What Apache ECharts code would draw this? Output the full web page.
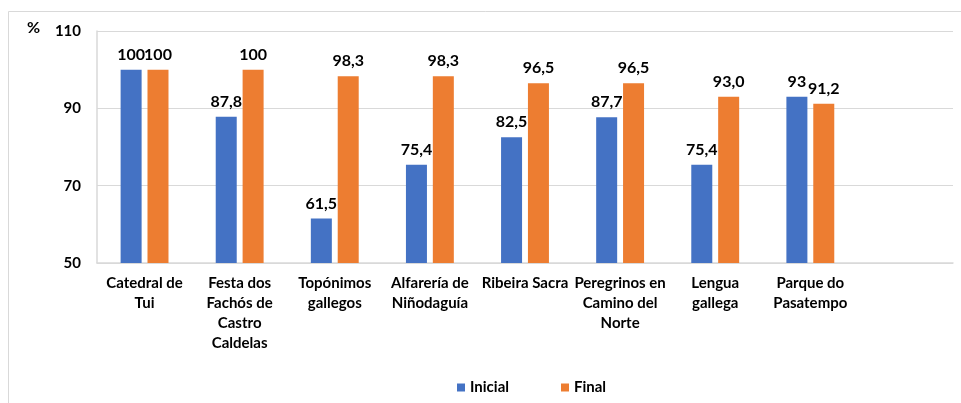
<!DOCTYPE html>
<html>
<head>
<meta charset="utf-8">
<script src="https://cdn.jsdelivr.net/npm/echarts@6/dist/echarts.min.js"></script>
<style>
  html, body { margin: 0; padding: 0; background: #fff; }
  #chart { width: 961px; height: 403px; }
</style>
</head>
<body>
<div id="chart"></div>
<script>
// categories (last slot is empty in the original)
const categories = [
  "Catedral de\nTui",
  "Festa dos\nFachós de\nCastro\nCaldelas",
  "Topónimos\ngallegos",
  "Alfarería de\nNiñodaguía",
  "Ribeira Sacra",
  "Peregrinos en\nCamino del\nNorte",
  "Lengua\ngallega",
  "Parque do\nPasatempo",
  ""
];
const inicial = [100, 87.8, 61.5, 75.4, 82.5, 87.7, 75.4, 93, null];
const final = [100, 100, 98.3, 98.3, 96.5, 96.5, 93.0, 91.2, null];
// labels as printed on the chart
const inicialLabels = ["100", "87,8", "61,5", "75,4", "82,5", "87,7", "75,4", "93", ""];
const finalLabels = ["100", "100", "98,3", "98,3", "96,5", "96,5", "93,0", "91,2", ""];
const yTicks = [50, 70, 90, 110];

const FONT = "Lato";
const gridColor = "#d9d9d9";

const chart = echarts.init(document.getElementById("chart"));

function labelFor(arr) {
  return {
    show: true,
    position: "top",
    distance: 7,
    color: "#000",
    fontFamily: FONT,
    fontWeight: "bold",
    fontSize: 16,
    formatter: (p) => arr[p.dataIndex]
  };
}

const option = {
  animation: false,
  backgroundColor: "#fff",
  textStyle: { fontFamily: FONT },
  grid: { left: 97, right: 8, top: 31, bottom: 140 },
  graphic: [
    {
      type: "rect",
      shape: { x: 8.5, y: 11.5, width: 1200, height: 1000 },
      style: { fill: "none", stroke: gridColor, lineWidth: 1 },
      silent: true
    },
    {
      type: "text",
      left: 27,
      top: 20,
      style: {
        text: "%",
        fill: "#000",
        font: "bold 16px " + FONT
      }
    }
  ],
  legend: {
    left: 452,
    top: 375,
    icon: "rect",
    itemWidth: 8,
    itemHeight: 8,
    itemGap: 52,
    textStyle: { color: "#000", fontFamily: FONT, fontWeight: "bold", fontSize: 15 },
    data: ["Inicial", "Final"]
  },
  xAxis: {
    type: "category",
    data: categories,
    axisLine: { lineStyle: { color: gridColor, width: 1.5 } },
    axisTick: { show: false },
    axisLabel: {
      interval: 0,
      margin: 10,
      color: "#000",
      fontFamily: FONT,
      fontWeight: "bold",
      fontSize: 15,
      lineHeight: 20
    }
  },
  yAxis: {
    type: "value",
    min: yTicks[0],
    max: yTicks[yTicks.length - 1],
    interval: 20,
    axisLine: { show: true, lineStyle: { color: gridColor, width: 1.5 } },
    axisTick: { show: false },
    splitLine: { lineStyle: { color: gridColor, width: 1 } },
    axisLabel: {
      margin: 16,
      color: "#000",
      fontFamily: FONT,
      fontWeight: "bold",
      fontSize: 15
    }
  },
  series: [
    {
      name: "Inicial",
      type: "bar",
      data: inicial,
      barWidth: 21,
      barGap: "28%",
      itemStyle: { color: "#4472C4" },
      label: labelFor(inicialLabels)
    },
    {
      name: "Final",
      type: "bar",
      data: final,
      barWidth: 21,
      itemStyle: { color: "#ED7D31" },
      label: labelFor(finalLabels)
    }
  ]
};

chart.setOption(option);
</script>
</body>
</html>
